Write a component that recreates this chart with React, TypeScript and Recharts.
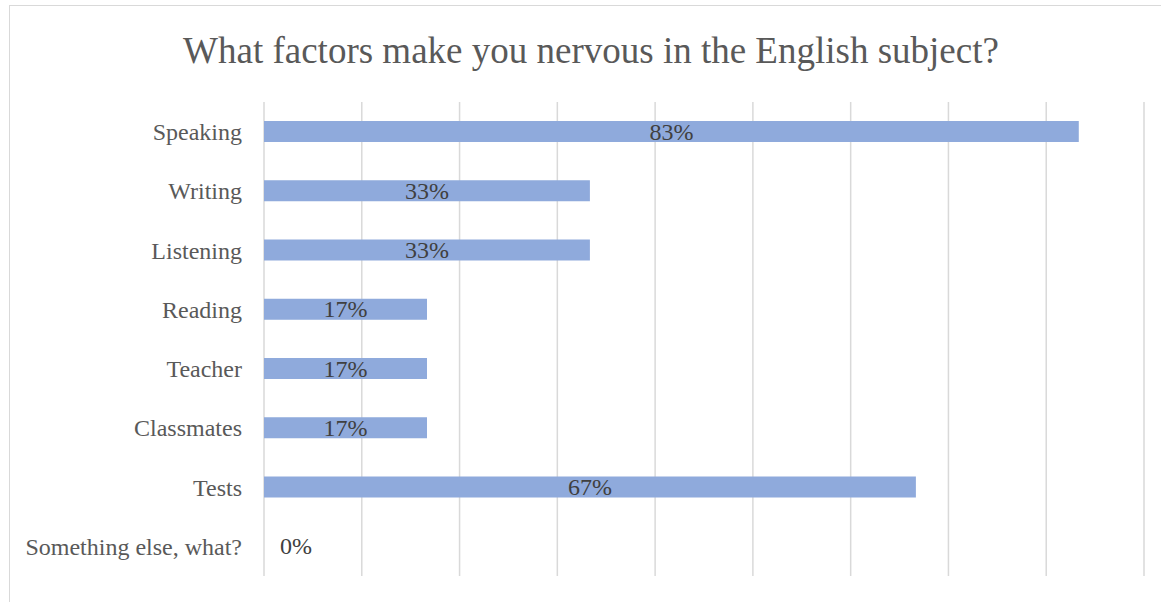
import React from "react";
import { BarChart, Bar, XAxis, YAxis, CartesianGrid } from "recharts";

const categories = [
  "Speaking",
  "Writing",
  "Listening",
  "Reading",
  "Teacher",
  "Classmates",
  "Tests",
  "Something else, what?",
];
const shares = [83.33, 33.33, 33.33, 16.67, 16.67, 16.67, 66.67, 0];
const xTicks = [0, 10, 20, 30, 40, 50, 60, 70, 80, 90];
const title = "What factors make you nervous in the English subject?";

const data = categories.map((name, i) => ({ name, value: shares[i] }));

const FONT = '"Liberation Serif", "Times New Roman", serif';

const BarWithLabel = (props: any) => {
  const { x, y, width, height, value } = props;
  const v = Array.isArray(value) ? value[1] - value[0] : value;
  const text = `${Math.round(v)}%`;
  const cx = v === 0 ? x + 32 : x + width / 2;
  return (
    <g>
      {width > 0 && <rect x={x} y={y} width={width} height={height} fill="#8faadc" />}
      <text
        x={cx}
        y={y + height / 2}
        textAnchor="middle"
        dominantBaseline="central"
        fontFamily={FONT}
        fontSize={24}
        fill="#404040"
      >
        {text}
      </text>
    </g>
  );
};

export default function App() {
  return (
    <div
      style={{
        position: "absolute",
        left: 9,
        top: 5,
        width: 1162,
        height: 600,
        border: "1px solid #d9d9d9",
        boxSizing: "border-box",
        background: "#fff",
      }}
    >
      <div
        style={{
          position: "absolute",
          left: 0,
          top: 0,
          width: 1162,
          textAlign: "center",
          fontFamily: FONT,
          fontSize: 37,
          color: "#595959",
          lineHeight: "1",
          paddingTop: 26,
        }}
      >
        {title}
      </div>
      <div style={{ position: "absolute", left: -1, top: -1 }}>
        <BarChart
          width={1162}
          height={600}
          data={data}
          layout="vertical"
          margin={{ top: 97, right: 27, bottom: 29, left: 0 }}
        >
          <CartesianGrid horizontal={false} vertical stroke="#d9d9d9" strokeWidth={1.5} />
          <XAxis type="number" domain={[0, 90]} ticks={xTicks} hide />
          <YAxis
            type="category"
            dataKey="name"
            width={255}
            axisLine={false}
            tickLine={false}
            tickMargin={16}
            tick={{ fontFamily: FONT, fontSize: 24, fill: "#595959" }}
          />
          <Bar
            dataKey="value"
            fill="#8faadc"
            barSize={21}
            shape={BarWithLabel}
            isAnimationActive={false}
          />
        </BarChart>
      </div>
    </div>
  );
}
